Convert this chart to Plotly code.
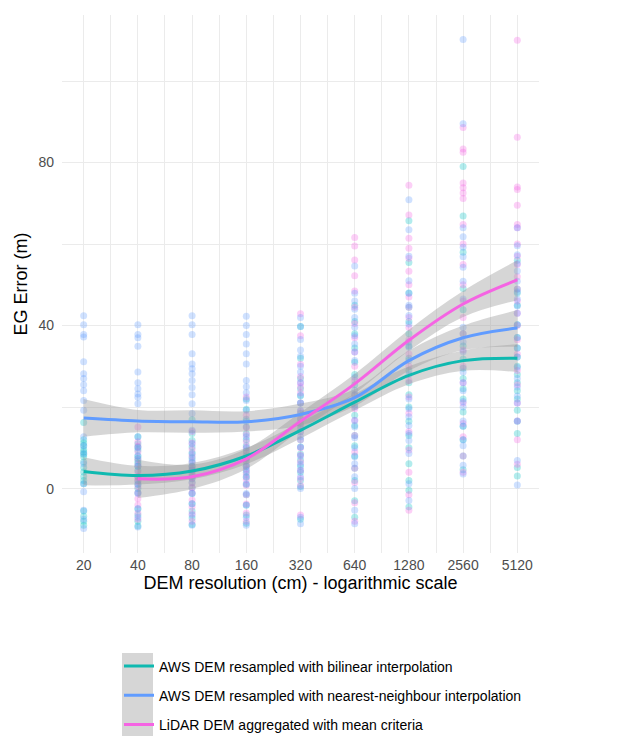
import math
import plotly.graph_objects as go

# ---------------- data ----------------
resolutions = [20, 40, 80, 160, 320, 640, 1280, 2560, 5120]
tick_labels = ["20", "40", "80", "160", "320", "640", "1280", "2560", "5120"]
lidar_res = [40, 80, 160, 320, 640, 1280, 2560, 5120]

series_names = [
    "AWS DEM resampled with bilinear interpolation",
    "AWS DEM resampled with nearest-neighbour interpolation",
    "LiDAR DEM aggregated with mean criteria",
]

bilinear_pts = [
    [16.2, 12.0, 10.5, 9.0, 7.8, 6.5, 5.2, 4.1, 3.0, 2.0, 1.2, 8.4, -5.5, -6.8, -8.0, -9.0, 11.2, 9.6],
    [12.7, 11.0, 9.5, 8.0, 6.8, 5.5, 4.5, 3.0, 2.0, 1.0, 0.0, -1.0, -5.0, -6.5, -8.0, -9.2, 10.2, 7.4, 6.2],
    [13.5, 11.8, 10.2, 8.8, 7.6, 6.4, 5.5, 4.6, 3.5, 2.4, 1.5, 0.2, -1.2, -3.7, -5.5, -7.2, -8.8, 16.9],
    [22.0, 19.5, 17.0, 15.2, 13.5, 12.0, 10.5, 9.2, 8.0, 6.8, 5.5, 4.0, 2.8, 1.0, -1.5, -4.0, -6.5, -8.5],
    [39.8, 32.0, 27.0, 24.5, 21.0, 18.5, 16.0, 14.0, 12.0, 10.2, 8.5, 7.0, 5.5, 4.0, 2.0, 0.5, -7.5, 22.8],
    [45.0, 41.0, 38.0, 34.5, 31.0, 28.0, 25.5, 23.0, 20.5, 18.0, 15.5, 13.0, 10.5, 8.0, 5.0, 2.0, -3.0, -7.0],
    [65.7, 55.5, 48.0, 44.5, 41.0, 38.0, 35.0, 32.0, 29.0, 26.0, 23.0, 20.0, 16.5, 13.0, 10.0, 6.1, 2.0, -0.4, -4.5],
    [79.0, 66.9, 58.0, 49.1, 43.9, 38.0, 35.0, 31.8, 29.5, 27.0, 24.5, 22.0, 18.8, 15.3, 12.0, 8.0, 4.6],
    [49.0, 45.0, 40.2, 37.1, 34.5, 32.3, 30.0, 28.0, 26.0, 24.0, 22.0, 19.2, 16.5, 13.5, 5.2, 3.1, 48.0, 56.0],
]
nearest_pts = [
    [42.4, 40.2, 37.8, 37.2, 31.1, 28.2, 27.0, 25.5, 24.0, 21.6, 19.2, 12.7, 10.5, 8.6, 6.1, 1.2, -0.8, -5.3, -7.5, -9.8],
    [40.2, 37.8, 37.0, 34.9, 28.6, 26.0, 24.5, 23.2, 22.4, 20.8, 12.7, 10.0, 8.0, 5.5, 1.2, -1.2, -4.9, -7.0, -9.4],
    [42.4, 40.2, 37.8, 33.1, 30.6, 29.4, 28.2, 26.5, 24.8, 23.0, 20.8, 18.4, 14.3, 11.0, 8.5, 5.5, 2.9, -1.2, -3.7, -6.5, -9.0, 4.5, 7.0],
    [42.3, 40.0, 37.8, 35.5, 33.1, 30.6, 26.5, 25.0, 23.5, 21.6, 19.2, 16.5, 12.7, 10.0, 7.5, 4.5, 1.2, -1.2, -4.1, -7.0, -9.0, 5.5, 3.0],
    [39.8, 36.6, 34.0, 30.0, 28.6, 26.0, 22.9, 21.0, 19.2, 17.0, 14.8, 12.7, 10.2, 8.0, 6.0, 4.5, 2.9, 0.0, -7.0, -8.6, 42.0, 32.5],
    [54.6, 47.9, 46.0, 44.0, 42.0, 39.6, 37.5, 35.5, 33.5, 31.4, 27.3, 24.1, 20.0, 16.7, 15.1, 12.5, 10.0, 7.8, 6.1, 2.9, 0.0, -5.3, -8.6],
    [70.9, 63.5, 57.0, 51.0, 47.9, 45.0, 42.5, 40.4, 36.0, 34.7, 31.4, 28.0, 22.0, 19.6, 17.6, 15.5, 13.5, 11.8, 8.6, 1.2, -2.9],
    [110.2, 89.5, 64.0, 61.8, 59.2, 56.9, 54.3, 50.9, 46.5, 39.6, 36.0, 33.6, 28.6, 26.0, 24.0, 21.4, 16.6, 15.3, 10.5, 5.7, 3.6, 20.0, 12.0],
    [59.6, 57.4, 55.2, 53.4, 50.9, 48.3, 46.5, 44.8, 43.0, 40.2, 37.1, 34.5, 32.3, 29.7, 27.0, 24.9, 22.7, 21.0, 16.6, 6.9, 0.9, 64.0],
]
lidar_pts = [
    [15.1, 11.5, 9.0, 7.2, 5.8, 4.0, 3.0, 1.8, 0.5, -1.0, -2.5, -4.0, -6.0, -7.5, 10.4, 2.6],
    [14.0, 11.2, 9.6, 8.0, 6.5, 5.0, 3.8, 2.6, 1.4, 0.3, -1.0, -2.8, -4.5, -6.2, -8.0, 4.4],
    [22.5, 18.0, 15.0, 13.2, 11.5, 10.0, 8.6, 7.4, 6.0, 4.8, 3.5, 2.2, 0.8, -1.5, -3.8, -6.0, -8.0],
    [42.9, 37.5, 30.5, 27.5, 26.0, 23.5, 21.0, 19.0, 17.2, 15.5, 13.8, 12.0, 10.0, 8.2, 6.5, 4.5, 2.5, 0.8, -6.5, 25.0],
    [61.6, 59.5, 56.1, 52.2, 48.5, 44.5, 40.5, 37.0, 33.5, 30.0, 26.5, 23.0, 19.6, 16.7, 13.0, 9.0, 5.0, 1.5, -3.5, -8.0],
    [74.4, 67.1, 61.4, 59.0, 56.5, 53.3, 50.0, 47.0, 44.5, 42.0, 39.5, 36.5, 33.0, 30.0, 26.5, 22.5, 18.5, 14.0, 9.5, 4.0, -1.5, -5.3],
    [88.6, 83.3, 82.5, 75.0, 73.8, 72.5, 71.2, 64.8, 60.0, 55.0, 50.0, 46.0, 42.0, 38.0, 34.0, 30.0, 26.0, 21.0, 16.0, 12.7, 8.0, 4.0],
    [110.0, 86.2, 74.0, 73.4, 69.5, 64.8, 64.0, 60.0, 57.0, 55.0, 52.0, 49.0, 46.0, 43.0, 40.0, 36.5, 33.0, 29.0, 25.5, 21.0, 16.6, 12.0, 6.0],
]

# smoothed trends (loess) and confidence bands
bilinear_fit = [4.2, 3.2, 4.3, 8.0, 14.3, 21.2, 27.8, 31.4, 32.0]
bilinear_lo = [0.8, 1.0, 2.3, 6.0, 12.3, 19.2, 25.6, 28.9, 28.6]
bilinear_hi = [7.7, 5.6, 6.3, 10.0, 16.3, 23.2, 30.0, 33.9, 35.4]

nearest_fit = [17.3, 16.6, 16.4, 16.4, 18.2, 22.3, 31.4, 37.0, 39.4]
nearest_lo = [12.7, 13.8, 13.7, 14.0, 15.5, 20.2, 28.9, 34.0, 34.8]
nearest_hi = [22.0, 19.3, 19.2, 19.0, 20.9, 24.4, 33.9, 40.0, 43.8]

lidar_fit = [2.4, 2.9, 7.3, 16.5, 25.7, 36.4, 45.3, 51.2]
lidar_lo = [-2.3, -0.1, 4.8, 14.3, 23.3, 33.8, 42.1, 46.2]
lidar_hi = [7.1, 5.9, 9.8, 18.7, 28.1, 39.0, 48.5, 56.0]

colors = ["#0FB9B0", "#619CFF", "#F564E3"]
point_colors = ["#00BFC4", "#619CFF", "#F564E3"]

# ---------------- figure ----------------
fig = go.Figure()

def add_points(res_list, pts, color):
    xs, ys = [], []
    for r, vals in zip(res_list, pts):
        xs += [r] * len(vals)
        ys += vals
    fig.add_trace(go.Scatter(
        x=xs, y=ys, mode="markers", showlegend=False, hoverinfo="skip",
        marker=dict(color=color, size=7, opacity=0.3, line=dict(width=0)),
    ))

add_points(resolutions, bilinear_pts, point_colors[0])
add_points(lidar_res, lidar_pts, point_colors[2])
add_points(resolutions, nearest_pts, point_colors[1])

band_fill = "rgba(153,153,153,0.4)"
def add_band(res_list, lo, hi):
    fig.add_trace(go.Scatter(x=res_list, y=hi, mode="lines", line=dict(width=0, shape="spline"),
                             showlegend=False, hoverinfo="skip"))
    fig.add_trace(go.Scatter(x=res_list, y=lo, mode="lines", line=dict(width=0, shape="spline"),
                             fill="tonexty", fillcolor=band_fill, showlegend=False, hoverinfo="skip"))

add_band(resolutions, bilinear_lo, bilinear_hi)
add_band(resolutions, nearest_lo, nearest_hi)
add_band(lidar_res, lidar_lo, lidar_hi)

for name, res_list, fit, col in [
    (series_names[0], resolutions, bilinear_fit, colors[0]),
    (series_names[1], resolutions, nearest_fit, colors[1]),
    (series_names[2], lidar_res, lidar_fit, colors[2]),
]:
    fig.add_trace(go.Scatter(x=res_list, y=fit, mode="lines", name=name, legendgroup=name,
                             line=dict(color=col, width=3, shape="spline")))

# minor gridlines halfway (in log space) between the labelled resolutions
minor_x = [math.sqrt(a * b) for a, b in zip(resolutions[:-1], resolutions[1:])]
# ggplot-like 5% expansion of the log range
lo_log, hi_log = math.log10(resolutions[0]), math.log10(resolutions[-1])
pad = 0.05 * (hi_log - lo_log)

grid = "#EBEBEB"
font_family = "Liberation Sans, Arial, sans-serif"
fig.update_layout(
    width=618, height=736,
    margin=dict(l=54, r=87, t=7, b=191, autoexpand=False),
    paper_bgcolor="white", plot_bgcolor="white",
    font=dict(family=font_family, color="#4D4D4D"),
    xaxis=dict(
        type="log", range=[lo_log - pad, hi_log + pad],
        tickvals=resolutions, ticktext=tick_labels,
        tickfont=dict(size=14, color="#4D4D4D"), ticklabelstandoff=2,
        showgrid=True, gridcolor=grid, gridwidth=1.3,
        minor=dict(tickvals=minor_x, showgrid=True, gridcolor=grid, gridwidth=1),
        zeroline=False, showline=False, ticks="",
        title=dict(text="DEM resolution (cm) - logarithmic scale",
                   font=dict(size=18, color="black"), standoff=3),
    ),
    yaxis=dict(
        range=[-15.8, 116.2],
        tickvals=[0, 40, 80],
        tickfont=dict(size=14, color="#4D4D4D"), ticklabelstandoff=7,
        showgrid=True, gridcolor=grid, gridwidth=1.3,
        minor=dict(tickvals=[20, 60, 100], showgrid=True, gridcolor=grid, gridwidth=1),
        zeroline=False, showline=False, ticks="",
        title=dict(text="EG Error (m)", font=dict(size=18, color="black"), standoff=6),
    ),
    legend=dict(
        x=0.1195, y=0.1271, xanchor="left", yanchor="top", yref="container",
        font=dict(size=14, color="black"),
        bgcolor="rgba(0,0,0,0)", tracegroupgap=8,
    ),
    shapes=[dict(type="rect", xref="paper", yref="paper",
                 x0=0.1258, x1=0.1908, y0=-0.1859, y1=-0.38,
                 fillcolor="#D6D6D6", line=dict(width=0), layer="above")],
)

fig.write_html("out.html")
